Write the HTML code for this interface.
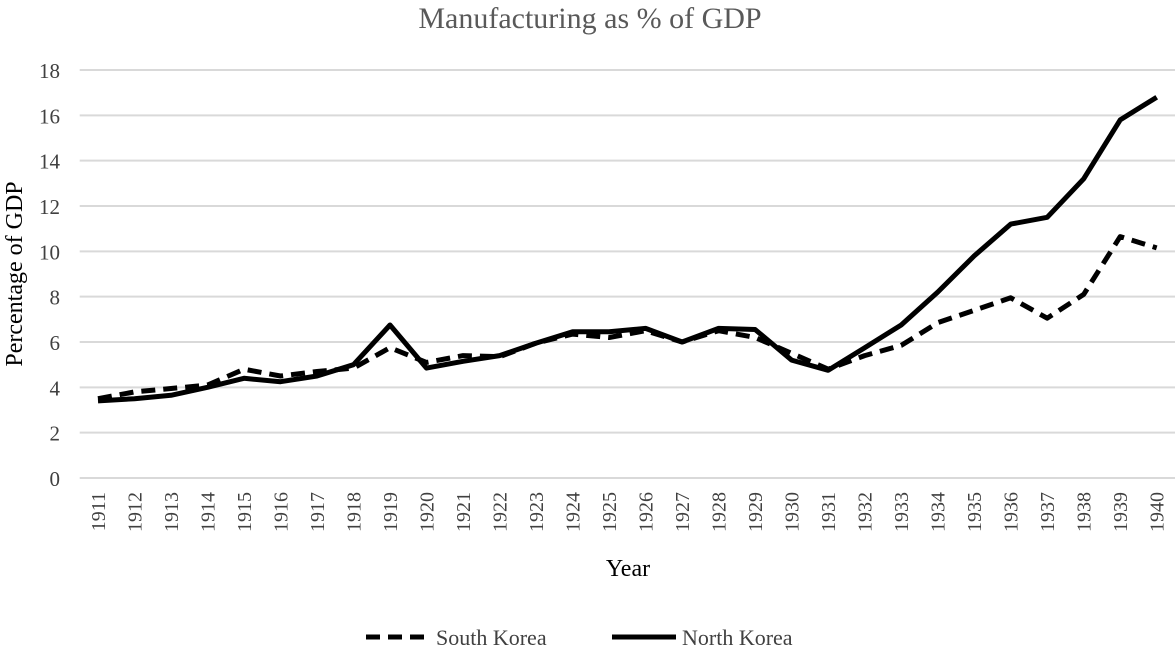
<!DOCTYPE html>
<html><head><meta charset="utf-8"><style>
body{margin:0;background:#fff;}
svg text{font-family:"Liberation Serif",serif;}
</style></head><body>
<svg id="chart" width="1175" height="649" xmlns="http://www.w3.org/2000/svg">
<text x="590" y="28" text-anchor="middle" font-size="30" fill="#595959">Manufacturing as % of GDP</text>
<g id="grid"></g>
<g id="yticks"></g>
<g id="xticks"></g>
<g id="series"></g>
<text transform="translate(22,274) rotate(-90)" text-anchor="middle" font-size="24" fill="#000">Percentage of GDP</text>
<text x="628" y="576" text-anchor="middle" font-size="24" fill="#000">Year</text>
<g>
<g>
<line x1="366" y1="637" x2="430" y2="637" stroke="#000" stroke-width="5" stroke-dasharray="14,8"/>
<text x="436" y="645" font-size="22" fill="#404040">South Korea</text></g>
<g>
<line x1="612" y1="637" x2="676" y2="637" stroke="#000" stroke-width="5"/>
<text x="682" y="645" font-size="22" fill="#404040">North Korea</text></g>
</g>
</svg>
<script>
const years=[1911,1912,1913,1914,1915,1916,1917,1918,1919,1920,1921,1922,1923,1924,1925,1926,1927,1928,1929,1930,1931,1932,1933,1934,1935,1936,1937,1938,1939,1940];
const southKorea=[3.5,3.8,3.95,4.1,4.8,4.5,4.7,4.85,5.75,5.1,5.4,5.35,5.95,6.35,6.2,6.5,6.0,6.5,6.2,5.5,4.8,5.4,5.85,6.85,7.4,7.95,7.05,8.1,10.65,10.15];
const northKorea=[3.4,3.5,3.65,4.0,4.4,4.25,4.5,5.0,6.75,4.85,5.15,5.4,5.95,6.45,6.45,6.6,6.0,6.6,6.55,5.2,4.75,5.75,6.75,8.2,9.8,11.2,11.5,13.2,15.8,16.8];
const yTicks=[0,2,4,6,8,10,12,14,16,18];
const NS="http://www.w3.org/2000/svg";
const pLeft=79.7,pRight=1175,pTop=70,pBottom=478,yMax=18;
const band=(pRight-pLeft)/years.length;
const xPos=i=>pLeft+band*(i+0.5);
const yPos=v=>pBottom-(v/yMax)*(pBottom-pTop);
function mk(tag,attrs,parent){const e=document.createElementNS(NS,tag);for(const k in attrs)e.setAttribute(k,attrs[k]);document.getElementById(parent).appendChild(e);return e;}
yTicks.forEach(t=>{
 const l=mk('line',{x1:pLeft,x2:pRight,y1:yPos(t),y2:yPos(t),stroke:'#d9d9d9','stroke-width':2},'grid');
 
 
 const tx=mk('text',{x:60,y:yPos(t)+8,'text-anchor':'end','font-size':21,fill:'#404040'},'yticks');
 tx.textContent=t;
 
 
});
years.forEach((yr,i)=>{
 const tx=mk('text',{transform:`translate(${xPos(i)+7},492) rotate(-90)`,'text-anchor':'end','font-size':20,fill:'#404040'},'xticks');
 tx.textContent=yr;
 
 
});
function pts(a){return a.map((v,i)=>xPos(i).toFixed(1)+','+yPos(v).toFixed(1)).join(' ');}
const s=mk('polyline',{points:pts(southKorea),fill:'none',stroke:'#000','stroke-width':5,'stroke-dasharray':'14,8','stroke-linejoin':'round'},'series');


const n=mk('polyline',{points:pts(northKorea),fill:'none',stroke:'#000','stroke-width':5,'stroke-linejoin':'round'},'series');


</script>
</body></html>
